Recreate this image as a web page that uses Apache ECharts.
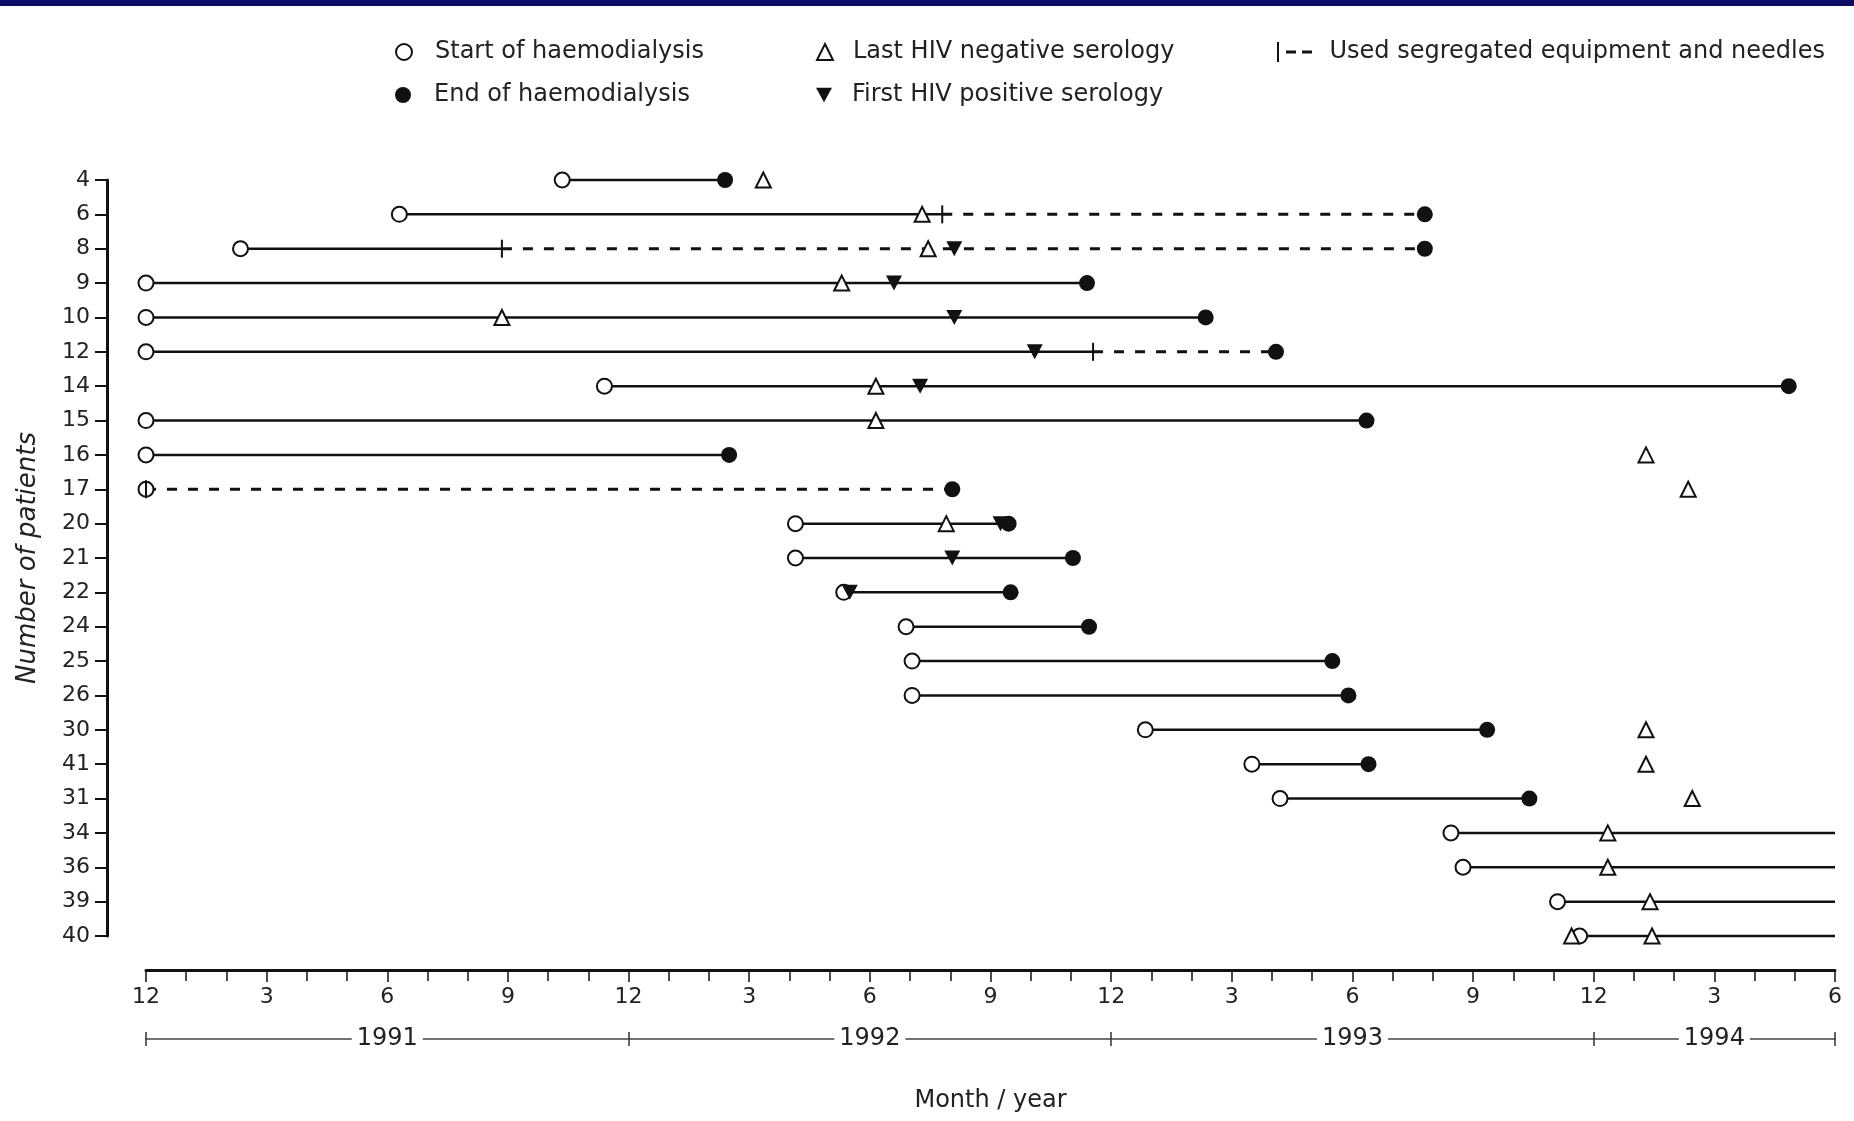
<!DOCTYPE html>
<html>
<head>
<meta charset="utf-8">
<title>Haemodialysis and HIV serology by patient</title>
<script src="https://cdn.jsdelivr.net/npm/echarts@6/dist/echarts.min.js"></script>
<style>
  html, body { margin: 0; padding: 0; background: #fff; }
  #chart { width: 1854px; height: 1121px; }
</style>
</head>
<body>
<div id="chart"></div>
<script>
// Patients, listed top to bottom as on the vertical axis
const patients = ['4', '6', '8', '9', '10', '12', '14', '15', '16', '17', '20', '21', '22', '24', '25', '26', '30', '41', '31', '34', '36', '39', '40'];

// Time in months counted from December 1990 (0) to June 1994 (42)
const dialysisStart = [10.35, 6.3, 2.35, 0, 0, 0, 11.4, 0, 0, 0, 16.15, 16.15, 17.35, 18.9, 19.05, 19.05, 24.85, 27.5, 28.2, 32.45, 32.75, 35.1, 35.65];
// null: still on haemodialysis at the end of follow-up
const dialysisEnd = [14.4, 31.8, 31.8, 23.4, 26.35, 28.1, 40.85, 30.35, 14.5, 20.05, 21.45, 23.05, 21.5, 23.45, 29.5, 29.9, 33.35, 30.4, 34.4, null, null, null, null];
// Month from which segregated equipment and needles were used (null: never)
const segregatedFrom = [null, 19.8, 8.85, null, null, 23.55, null, null, null, 0, null, null, null, null, null, null, null, null, null, null, null, null, null];

// [patient, month]
const lastNegative = [
  ['4', 15.35], ['6', 19.3], ['8', 19.45], ['9', 17.3], ['10', 8.85], ['14', 18.15], ['15', 18.15],
  ['16', 37.3], ['17', 38.35], ['20', 19.9], ['30', 37.3], ['41', 37.3], ['31', 38.45],
  ['34', 36.35], ['36', 36.35], ['39', 37.4], ['40', 35.45], ['40', 37.45]
];
const firstPositive = [
  ['8', 20.1], ['9', 18.6], ['10', 20.1], ['12', 22.1], ['14', 19.25], ['20', 21.25], ['21', 20.05], ['22', 17.5]
];

const followUpEnd = 42;
const monthLabels = ['12', '3', '6', '9', '12', '3', '6', '9', '12', '3', '6', '9', '12', '3', '6'];
const yearLabels = ['1991', '1992', '1993', '1994'];
const yearBounds = [0, 12, 24, 36, 42];

const FONT = 'DejaVu Sans';
const INK = '#111';
const TEXT = '#222';

const NAMES = {
  start: 'Start of haemodialysis',
  end: 'End of haemodialysis',
  neg: 'Last HIV negative serology',
  pos: 'First HIV positive serology',
  seg: 'Used segregated equipment and needles'
};

// Line segments: solid while on ordinary equipment, dashed once segregated
const solidSegments = patients.map((p, i) => {
  const stop = segregatedFrom[i] ?? dialysisEnd[i] ?? followUpEnd;
  return [dialysisStart[i], stop, p];
}).filter(d => d[1] > d[0]);

const dashedSegments = patients.map((p, i) => {
  if (segregatedFrom[i] == null) return null;
  return [segregatedFrom[i], dialysisEnd[i] ?? followUpEnd, p];
}).filter(Boolean);

const startPoints = patients.map((p, i) => [dialysisStart[i], p]);
const endPoints = patients.map((p, i) => dialysisEnd[i] == null ? null : [dialysisEnd[i], p]).filter(Boolean);
const segPoints = patients.map((p, i) => segregatedFrom[i] == null ? null : [segregatedFrom[i], p]).filter(Boolean);
const negPoints = lastNegative.map(([p, m]) => [m, p]);
const posPoints = firstPositive.map(([p, m]) => [m, p]);

const yearMid = yearLabels.map((_, i) => (yearBounds[i] + yearBounds[i + 1]) / 2);

function segmentRenderer(dashed) {
  return function (params, api) {
    const a = api.coord([api.value(0), api.value(2)]);
    const b = api.coord([api.value(1), api.value(2)]);
    return {
      type: 'line',
      shape: { x1: a[0], y1: a[1], x2: b[0], y2: b[1] },
      style: {
        stroke: INK,
        lineWidth: dashed ? 3 : 2.5,
        lineDash: dashed ? [10, 11] : null
      }
    };
  };
}

const legendText = { fontFamily: FONT, fontSize: 24, color: TEXT };
function legendItem(name, left, top, w, h, padLeft, icon) {
  return {
    data: [icon ? { name: name, icon: icon } : name],
    left: left, top: top,
    itemWidth: w, itemHeight: h,
    padding: 0,
    selectedMode: false,
    textStyle: Object.assign({}, legendText, { padding: [0, 0, 0, padLeft] })
  };
}

const segIcon = 'path://M0,0 L2,0 L2,20 L0,20 Z M9,8.5 L19,8.5 L19,11.5 L9,11.5 Z M25,8.5 L35,8.5 L35,11.5 L25,11.5 Z';

const chart = echarts.init(document.getElementById('chart'));
chart.setOption({
  animation: false,
  backgroundColor: '#fff',
  textStyle: { fontFamily: FONT, color: TEXT },
  graphic: [{
    type: 'rect', left: 0, top: 0,
    shape: { width: 1854, height: 6 },
    style: { fill: '#0c0c68' }
  }],
  legend: [
    legendItem(NAMES.start, 395, 40, 16, 16, 18),
    legendItem(NAMES.end, 395, 83, 16, 16, 18),
    legendItem(NAMES.neg, 816, 40, 16, 16, 15),
    legendItem(NAMES.pos, 816, 83, 16, 16, 15),
    legendItem(NAMES.seg, 1277, 40, 38, 20, 11, segIcon)
  ],
  grid: {
    left: 146, right: 19, top: 180, bottom: 185,
    containLabel: false,
    outerBoundsMode: 'none'
  },
  xAxis: [
    {
      type: 'value', min: 0, max: followUpEnd, interval: 3,
      position: 'bottom', offset: 34,
      axisLine: { show: true, onZero: false, lineStyle: { color: INK, width: 3 } },
      axisTick: { show: true, length: 12, lineStyle: { color: INK, width: 1.5 } },
      minorTick: { show: true, splitNumber: 3, length: 11, lineStyle: { color: INK, width: 1.5 } },
      splitLine: { show: false },
      minorSplitLine: { show: false },
      axisLabel: {
        margin: 16, fontSize: 22, color: TEXT,
        formatter: v => monthLabels[Math.round(v / 3)]
      },
      name: 'Month / year', nameLocation: 'middle', nameGap: 119,
      nameTextStyle: { fontSize: 24, color: TEXT }
    },
    {
      type: 'value', min: 0, max: followUpEnd,
      position: 'bottom', offset: 103,
      axisLine: { show: true, onZero: false, lineStyle: { color: '#444', width: 1.5 } },
      axisTick: { show: true, customValues: yearBounds, length: 7, lineStyle: { color: '#333', width: 1.5 } },
      splitLine: { show: false },
      axisLabel: {
        customValues: yearMid,
        formatter: v => yearLabels[yearMid.indexOf(v)],
        margin: 0, verticalAlign: 'middle',
        backgroundColor: '#fff', padding: [2, 5],
        fontSize: 24, color: TEXT
      }
    },
    {
      type: 'value', min: 0, max: followUpEnd,
      position: 'bottom', offset: 103,
      axisLine: { show: false },
      axisTick: { show: true, inside: true, customValues: yearBounds, length: 7, lineStyle: { color: '#333', width: 1.5 } },
      splitLine: { show: false },
      axisLabel: { show: false }
    }
  ],
  yAxis: {
    type: 'category', data: patients, inverse: true, boundaryGap: false,
    offset: 39,
    axisLine: { show: true, onZero: false, lineStyle: { color: INK, width: 3 } },
    axisTick: { show: true, length: 12, lineStyle: { color: INK, width: 2 } },
    axisLabel: { interval: 0, margin: 17, fontSize: 22, color: TEXT },
    splitLine: { show: false },
    name: 'Number of patients', nameLocation: 'middle', nameRotate: 90, nameGap: 66,
    nameTextStyle: { fontSize: 26, fontStyle: 'italic', color: TEXT }
  },
  series: [
    {
      type: 'custom', name: 'on haemodialysis', renderItem: segmentRenderer(false),
      encode: { x: [0, 1], y: 2 }, data: solidSegments, z: 2, silent: true
    },
    {
      type: 'custom', name: 'segregated period', renderItem: segmentRenderer(true),
      encode: { x: [0, 1], y: 2 }, data: dashedSegments, z: 2, silent: true
    },
    {
      type: 'scatter', name: NAMES.start, data: startPoints, z: 3,
      symbol: 'circle', symbolSize: 15,
      itemStyle: { color: '#fff', borderColor: INK, borderWidth: 2, opacity: 1 }
    },
    {
      type: 'scatter', name: NAMES.end, data: endPoints, z: 3,
      symbol: 'circle', symbolSize: 16,
      itemStyle: { color: INK, opacity: 1 }
    },
    {
      type: 'scatter', name: NAMES.neg, data: negPoints, z: 4,
      symbol: 'triangle', symbolSize: [15, 15],
      itemStyle: { color: '#fff', borderColor: INK, borderWidth: 2, opacity: 1 }
    },
    {
      type: 'scatter', name: NAMES.pos, data: posPoints, z: 4,
      symbol: 'path://M0,0 L10,0 L5,9 Z', symbolSize: [16, 15],
      itemStyle: { color: INK, opacity: 1 }
    },
    {
      type: 'scatter', name: NAMES.seg, data: segPoints, z: 5,
      symbol: 'rect', symbolSize: [2, 18],
      itemStyle: { color: INK, opacity: 1 }
    }
  ]
});
</script>
</body>
</html>
